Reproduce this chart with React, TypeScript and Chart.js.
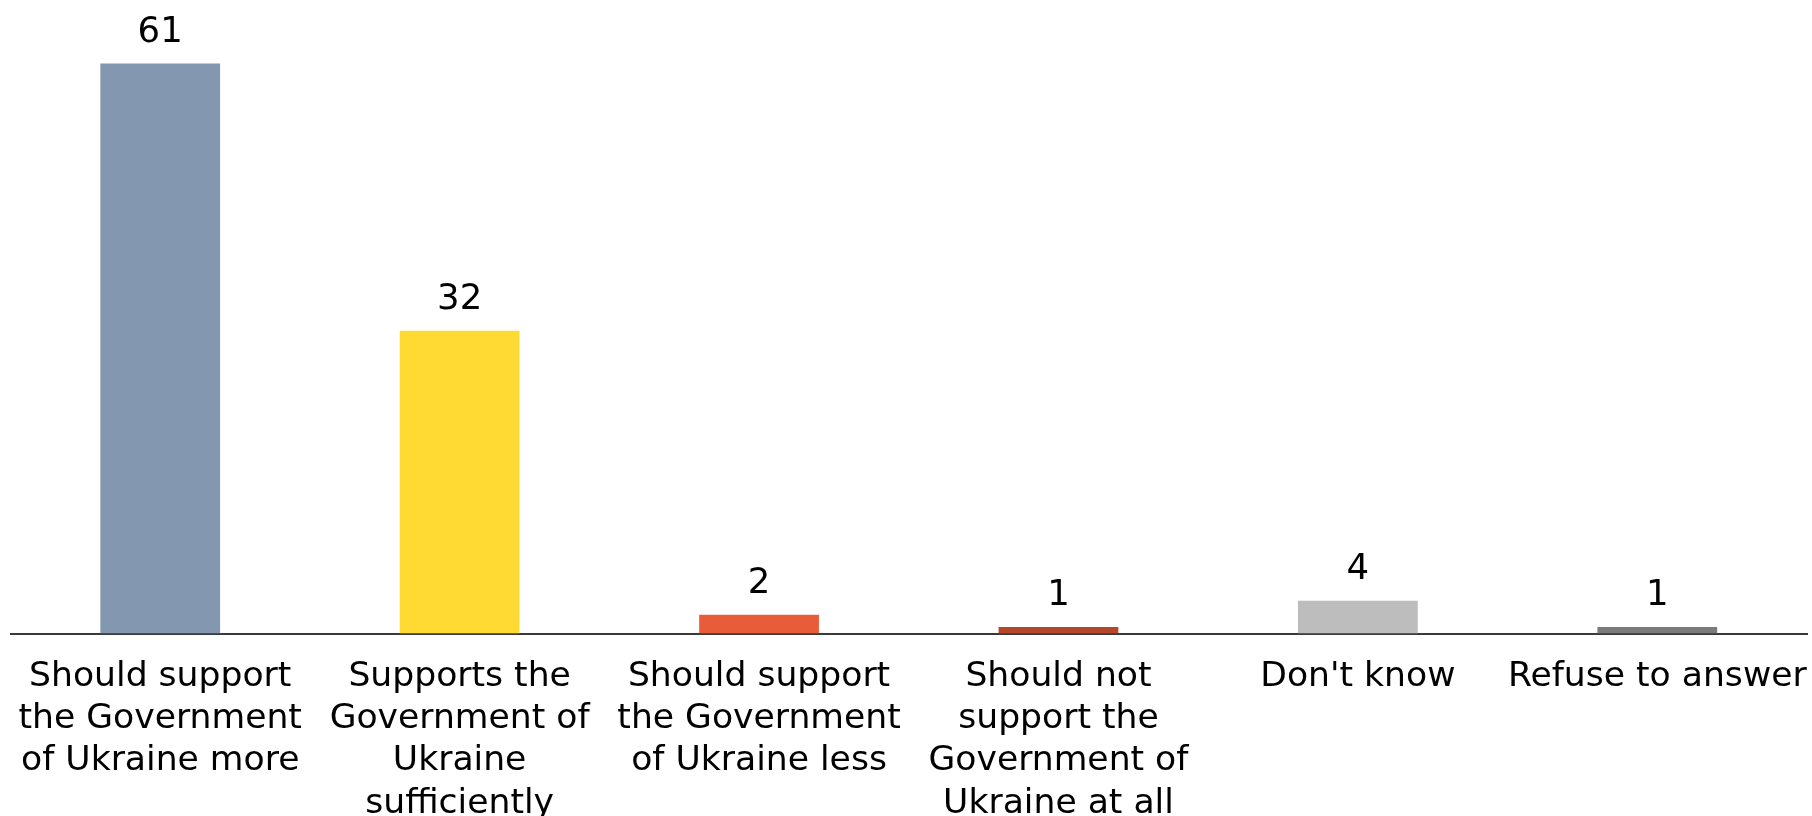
import React, { useEffect, useRef } from "react";
import { Chart, registerables } from "chart.js";

Chart.register(...registerables);

const categories: string[][] = [
  ["Should support", "the Government", "of Ukraine more"],
  ["Supports the", "Government of", "Ukraine", "sufficiently"],
  ["Should support", "the Government", "of Ukraine less"],
  ["Should not", "support the", "Government of", "Ukraine at all"],
  ["Don't know"],
  ["Refuse to answer"],
];
const values: number[] = [60.8, 32.3, 2.0, 0.7, 3.5, 0.7];
const valueLabels: string[] = ["61", "32", "2", "1", "4", "1"];
const barColors: string[] = ["#8497B0", "#FFDA33", "#E95C39", "#B5472C", "#BDBDBD", "#7B7B7B"];

const FONT = "'DejaVu Sans', sans-serif";

const valueLabelPlugin = {
  id: "valueLabels",
  afterDatasetsDraw(chart: any) {
    const ctx = chart.ctx;
    const meta = chart.getDatasetMeta(0);
    ctx.save();
    ctx.font = `35.5px ${FONT}`;
    ctx.fillStyle = "#000000";
    ctx.textAlign = "center";
    ctx.textBaseline = "alphabetic";
    meta.data.forEach((bar: any, i: number) => {
      ctx.fillText(valueLabels[i], bar.x, bar.y - 21.5);
    });
    ctx.restore();
  },
};

export default function App() {
  const ref = useRef<HTMLCanvasElement | null>(null);
  useEffect(() => {
    document.body.style.margin = "0";
    document.body.style.overflow = "hidden";
    const canvas = ref.current!;
    const chart = new Chart(canvas, {
      type: "bar",
      data: {
        labels: categories,
        datasets: [
          {
            data: values,
            backgroundColor: barColors,
            borderWidth: 0,
            categoryPercentage: 1,
            barPercentage: 0.4,
          },
        ],
      },
      options: {
        responsive: false,
        animation: false,
        maintainAspectRatio: false,
        layout: { padding: { top: 24, left: 10.5, right: 5, bottom: 0 } },
        plugins: {
          legend: { display: false },
          tooltip: { enabled: false },
        },
        scales: {
          x: {
            grid: { display: false, drawTicks: false },
            border: { display: true, color: "#3a3a3a", width: 2 },
            ticks: {
              color: "#000000",
              font: { family: FONT, size: 34.6, lineHeight: 1.225 },
              padding: 22,
              maxRotation: 0,
              minRotation: 0,
              autoSkip: false,
            },
            afterFit(scale: any) {
              scale.height = 182.5;
              scale.paddingLeft = 0;
              scale.paddingRight = 0;
            },
          },
          y: {
            display: false,
            min: 0,
            max: 65,
          },
        },
      },
      plugins: [valueLabelPlugin],
    });
    return () => chart.destroy();
  }, []);
  return <canvas ref={ref} width={1812} height={816} style={{ display: "block" }} />;
}
